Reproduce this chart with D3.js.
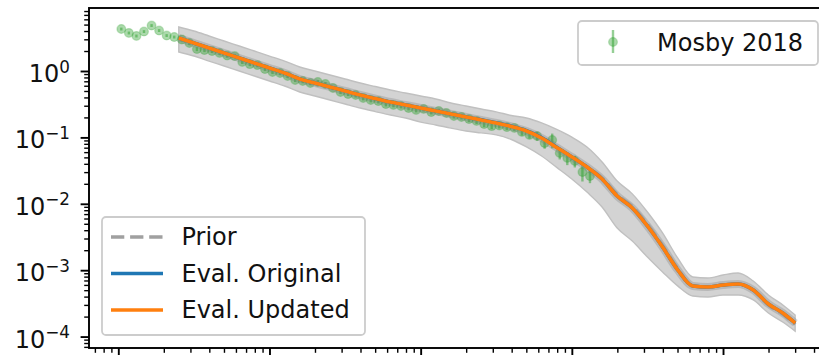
<!DOCTYPE html>
<html>
<head>
<meta charset="utf-8">
<script src="https://cdn.jsdelivr.net/npm/d3@7"></script>
<style>
  html, body { margin: 0; padding: 0; background: #fff; overflow: hidden; }
  svg { display: block; font-family: "DejaVu Sans", sans-serif; }
</style>
</head>
<body>
<svg id="chart" width="819" height="355"></svg>
<script>
// ---------------- data ----------------
// Evaluated capture cross section (barns) vs incident energy (eV)
const evalEnergy = [2512, 3162, 3981, 5012, 6310, 7943, 1e4, 12590, 15850, 19950,
  25120, 31620, 39810, 50120, 63100, 79430, 1e5, 125900, 158500, 199500,
  251200, 316200, 398100, 501200, 631000, 794300, 1e6, 1259000, 1585000, 1995000,
  2512000, 3162000, 3981000, 5012000, 6310000, 7943000, 1e7, 12590000, 15850000, 19950000,
  25120000, 30000000];

const evalUpdated = [3.14, 2.64, 2.22, 1.867, 1.570, 1.320, 1.110, 0.933, 0.758, 0.660,
  0.574, 0.500, 0.435, 0.385, 0.341, 0.308, 0.277, 0.250, 0.225, 0.203,
  0.183, 0.165, 0.146, 0.125, 0.0980, 0.0705, 0.0507, 0.0358, 0.0236, 0.0131,
  0.00865, 0.00463, 0.00224, 0.00101, 0.000578, 0.000558, 0.000598, 0.000620, 0.000503, 0.000310,
  0.000223, 0.000160];

const evalOriginal = [3.14, 2.64, 2.22, 1.867, 1.570, 1.320, 1.110, 0.933, 0.758, 0.660,
  0.574, 0.500, 0.435, 0.385, 0.341, 0.308, 0.277, 0.250, 0.225, 0.203,
  0.184, 0.166, 0.147, 0.126, 0.0990, 0.0712, 0.0507, 0.0358, 0.0236, 0.0131,
  0.00865, 0.00463, 0.00224, 0.00101, 0.000578, 0.000558, 0.000598, 0.000620, 0.000503, 0.000310,
  0.000223, 0.000160];

const evalPrior = [3.14, 2.64, 2.22, 1.867, 1.570, 1.320, 1.110, 0.933, 0.758, 0.660,
  0.574, 0.500, 0.435, 0.385, 0.341, 0.308, 0.277, 0.250, 0.225, 0.203,
  0.184, 0.166, 0.147, 0.126, 0.0990, 0.0712, 0.0507, 0.0358, 0.0245, 0.0137,
  0.0091, 0.0049, 0.00236, 0.00106, 0.000578, 0.000558, 0.000598, 0.000620, 0.000503, 0.000300,
  0.000215, 0.000152];

// uncertainty band (upper / lower envelope)
const bandHigh = [4.60, 4.00, 3.37, 2.83, 2.38, 2.00, 1.68, 1.41, 1.15, 1.00,
  0.870, 0.758, 0.659, 0.584, 0.517, 0.467, 0.420, 0.379, 0.330, 0.297,
  0.268, 0.242, 0.214, 0.196, 0.165, 0.132, 0.101, 0.0716, 0.0426, 0.0220,
  0.0141, 0.00752, 0.00364, 0.00153, 0.000790, 0.000762, 0.000846, 0.000908, 0.000687, 0.000423,
  0.000294, 0.000211];

const bandLow = [1.93, 1.68, 1.41, 1.19, 1.00, 0.841, 0.707, 0.594, 0.483, 0.420,
  0.366, 0.318, 0.277, 0.245, 0.217, 0.196, 0.170, 0.154, 0.138, 0.125,
  0.117, 0.109, 0.0930, 0.0718, 0.0525, 0.0353, 0.0236, 0.0150, 0.00894, 0.00432,
  0.00275, 0.00158, 0.000942, 0.000580, 0.000409, 0.000395, 0.000423, 0.000423, 0.000356, 0.000227,
  0.000163, 0.000121];

// Mosby 2018 measurement
const mosbyEnergy = [1047, 1175, 1318, 1479, 1660, 1862, 2089, 2344, 2630, 2951,
  3311, 3715, 4169, 4677, 5248, 5888, 6607, 7413, 8318, 9333,
  10470, 11750, 13180, 14790, 16600, 18620, 20890, 23440, 26300, 29510,
  33110, 37150, 41690, 46770, 52480, 58880, 66070, 74130, 83180, 93330,
  104700, 117500, 131800, 147900, 166000, 186200, 208900, 234400, 263000, 295100,
  331100, 371500, 416900, 467700, 524800, 588800, 660700, 741300, 831800, 933300,
  1047000, 1175000, 1318000];

const mosbyXS = [4.29, 3.74, 3.37, 3.93, 4.84, 4.07, 3.42, 3.25, 2.98, 2.64,
  2.14, 2.07, 2.00, 1.87, 1.71, 1.68, 1.37, 1.27, 1.23, 1.07,
  0.966, 0.933, 0.841, 0.732, 0.707, 0.660, 0.683, 0.637, 0.555, 0.483,
  0.450, 0.435, 0.392, 0.366, 0.353, 0.318, 0.308, 0.297, 0.277, 0.259,
  0.268, 0.241, 0.250, 0.233, 0.210, 0.203, 0.189, 0.177, 0.159, 0.148,
  0.151, 0.143, 0.139, 0.121, 0.109, 0.105, 0.0823, 0.0913, 0.0582, 0.0490,
  0.0441, 0.0301, 0.0262];

const mosbyRelErr = [0.05, 0.05, 0.05, 0.05, 0.05, 0.05, 0.05, 0.05, 0.07, 0.07,
  0.07, 0.07, 0.07, 0.07, 0.07, 0.07, 0.07, 0.07, 0.07, 0.07,
  0.07, 0.07, 0.07, 0.07, 0.07, 0.07, 0.07, 0.07, 0.07, 0.07,
  0.07, 0.08, 0.08, 0.08, 0.08, 0.08, 0.08, 0.08, 0.08, 0.08,
  0.08, 0.08, 0.08, 0.08, 0.08, 0.08, 0.10, 0.10, 0.10, 0.10,
  0.10, 0.10, 0.10, 0.12, 0.12, 0.15, 0.18, 0.25, 0.20, 0.22,
  0.20, 0.28, 0.22];

// axes limits and ticks
const xLimits = [640, 4.8e7];
const yLimits = [6.73e-5, 8.89];
const xMajorTicks = [1e3, 1e4, 1e5, 1e6, 1e7];
const yMajorTicks = [1e-4, 1e-3, 1e-2, 1e-1, 1];
const yTickExponents = ["\u22124", "\u22123", "\u22122", "\u22121", "0"];

const legendTop = ["Mosby 2018"];
const legendBottom = ["Prior", "Eval. Original", "Eval. Updated"];

// ---------------- drawing ----------------
const FS = 24;
const frame = { left: 89, right: 826, top: 8, bottom: 348 };
const svg = d3.select("#chart");

const x = d3.scaleLog().domain(xLimits).range([frame.left, frame.right]);
const y = d3.scaleLog().domain(yLimits).range([frame.bottom, frame.top]);

svg.append("defs").append("clipPath").attr("id", "plotClip")
  .append("rect")
  .attr("x", frame.left).attr("y", frame.top)
  .attr("width", frame.right - frame.left).attr("height", frame.bottom - frame.top);

const plot = svg.append("g").attr("clip-path", "url(#plotClip)");

// uncertainty band
const band = d3.area()
  .x((d, i) => x(evalEnergy[i]))
  .y0((d, i) => y(bandLow[i]))
  .y1((d, i) => y(bandHigh[i]))
  .curve(d3.curveMonotoneX);
plot.append("path")
  .datum(evalEnergy)
  .attr("d", band)
  .attr("fill", "#d3d3d3")
  .attr("stroke", "#c0c0c0")
  .attr("stroke-width", 1.4);

// measurement points with error bars
const green = "#2ca02c";
const pts = plot.append("g");
mosbyEnergy.forEach((e, i) => {
  const v = mosbyXS[i], dv = v * mosbyRelErr[i];
  pts.append("line")
    .attr("x1", x(e)).attr("x2", x(e))
    .attr("y1", y(v + dv)).attr("y2", y(v - dv))
    .attr("stroke", green).attr("stroke-opacity", 0.5).attr("stroke-width", 2.4);
  pts.append("circle")
    .attr("cx", x(e)).attr("cy", y(v)).attr("r", 4.4)
    .attr("fill", green).attr("fill-opacity", 0.4)
    .attr("stroke", green).attr("stroke-opacity", 0.25).attr("stroke-width", 1.2);
});

// evaluation curves
const lineFor = series => d3.line()
  .x((d, i) => x(evalEnergy[i]))
  .y((d, i) => y(series[i]))
  .curve(d3.curveMonotoneX);

plot.append("path").datum(evalEnergy).attr("d", lineFor(evalUpdated))
  .attr("fill", "none").attr("stroke", "#7a7a7a").attr("stroke-opacity", 0.3)
  .attr("stroke-width", 8);
plot.append("path").datum(evalEnergy).attr("d", lineFor(evalPrior))
  .attr("fill", "none").attr("stroke", "#a0a0a0").attr("stroke-width", 3.6)
  .attr("stroke-dasharray", "13.3 5.8");
plot.append("path").datum(evalEnergy).attr("d", lineFor(evalOriginal))
  .attr("fill", "none").attr("stroke", "#1f77b4").attr("stroke-width", 3.6);
plot.append("path").datum(evalEnergy).attr("d", lineFor(evalUpdated))
  .attr("fill", "none").attr("stroke", "#ff7f0e").attr("stroke-width", 3.6);

// ---- axes ----
const yMinorTicks = [];
for (let p = -5; p <= 0; p++) for (let m = 2; m <= 9; m++) {
  const v = m * Math.pow(10, p);
  if (v > yLimits[0] && v < yLimits[1]) yMinorTicks.push(v);
}
const xMinorTicks = [];
for (let p = 2; p <= 7; p++) for (let m = 2; m <= 9; m++) {
  const v = m * Math.pow(10, p);
  if (v > xLimits[0] && v < xLimits[1]) xMinorTicks.push(v);
}

function styleAxis(g, w) {
  g.select(".domain").remove();
  g.selectAll(".tick line").attr("stroke", "#000").attr("stroke-width", w);
  g.selectAll(".tick text").remove();
}

svg.append("g").attr("transform", `translate(${frame.left},0)`)
  .call(d3.axisLeft(y).tickValues(yMinorTicks).tickSize(4.8).tickFormat(""))
  .call(g => styleAxis(g, 1.4));
svg.append("g").attr("transform", `translate(${frame.left},0)`)
  .call(d3.axisLeft(y).tickValues(yMajorTicks).tickSize(8.4).tickFormat(""))
  .call(g => styleAxis(g, 1.9));
svg.append("g").attr("transform", `translate(0,${frame.bottom})`)
  .call(d3.axisBottom(x).tickValues(xMinorTicks).tickSize(4.8).tickFormat(""))
  .call(g => styleAxis(g, 1.4));
svg.append("g").attr("transform", `translate(0,${frame.bottom})`)
  .call(d3.axisBottom(x).tickValues(xMajorTicks).tickSize(8.4).tickFormat(""))
  .call(g => styleAxis(g, 1.9));

// y tick labels as 10^n
yMajorTicks.forEach((v, i) => {
  const t = svg.append("text")
    .attr("x", frame.left - 19).attr("y", y(v) + 11)
    .attr("text-anchor", "end").attr("font-size", FS).attr("fill", "#111");
  t.append("tspan").text("10");
  t.append("tspan").attr("font-size", FS * 0.7).attr("dy", -9.5).text(yTickExponents[i]);
});

// spines
svg.append("rect")
  .attr("x", frame.left).attr("y", frame.top)
  .attr("width", frame.right - frame.left).attr("height", frame.bottom - frame.top)
  .attr("fill", "none").attr("stroke", "#000").attr("stroke-width", 1.9);

// ---- legends ----
const lgTop = svg.append("g");
lgTop.append("rect")
  .attr("x", 578).attr("y", 21).attr("width", 240).attr("height", 44).attr("rx", 4)
  .attr("fill", "#fff").attr("fill-opacity", 0.8)
  .attr("stroke", "#cccccc").attr("stroke-width", 1.8);
lgTop.append("line").attr("x1", 613).attr("x2", 613).attr("y1", 30).attr("y2", 53)
  .attr("stroke", green).attr("stroke-opacity", 0.5).attr("stroke-width", 2.4);
lgTop.append("circle").attr("cx", 613).attr("cy", 42).attr("r", 4.4)
  .attr("fill", green).attr("fill-opacity", 0.4)
  .attr("stroke", green).attr("stroke-opacity", 0.25).attr("stroke-width", 1.2);
lgTop.append("text").attr("x", 657).attr("y", 50.5).attr("font-size", FS)
  .attr("fill", "#111").text(legendTop[0]);

const lgBot = svg.append("g");
lgBot.append("rect")
  .attr("x", 102).attr("y", 217).attr("width", 263).attr("height", 118).attr("rx", 4)
  .attr("fill", "#fff").attr("fill-opacity", 0.8)
  .attr("stroke", "#cccccc").attr("stroke-width", 1.8);
const rowStyles = [
  { color: "#a0a0a0", dash: "13.3 5.8" },
  { color: "#1f77b4", dash: null },
  { color: "#ff7f0e", dash: null }
];
const rowY = [237, 273.5, 310];
legendBottom.forEach((label, i) => {
  const ln = lgBot.append("line")
    .attr("x1", 111).attr("x2", 163).attr("y1", rowY[i]).attr("y2", rowY[i])
    .attr("stroke", rowStyles[i].color).attr("stroke-width", 3.6);
  if (rowStyles[i].dash) ln.attr("stroke-dasharray", rowStyles[i].dash);
  lgBot.append("text").attr("x", 181.5).attr("y", rowY[i] + 8.4)
    .attr("font-size", FS).attr("fill", "#111").text(label);
});
</script>
</body>
</html>
